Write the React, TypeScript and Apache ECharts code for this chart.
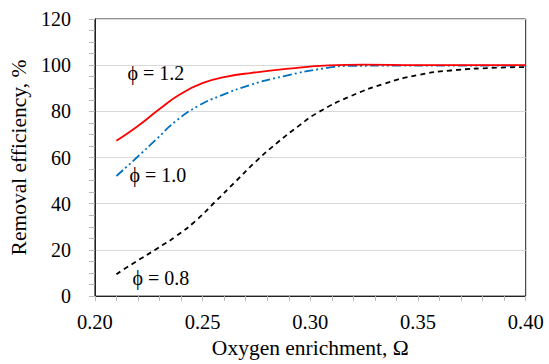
import React, { useEffect, useRef } from "react";
import * as echarts from "echarts";

const xRed = [0.21, 0.2192, 0.23, 0.2392, 0.2499, 0.2606, 0.2729, 0.29, 0.3085, 0.325, 0.35, 0.375, 0.40];
const yRed = [67.3, 73.1, 81, 87.2, 92.2, 94.9, 96.7, 98.5, 99.9, 100.2, 100, 100, 100];

const xBlue = [0.21, 0.2192, 0.2284, 0.2376, 0.248, 0.2576, 0.272, 0.2875, 0.3075, 0.319, 0.34, 0.37, 0.40];
const yBlue = [52, 59.8, 67.8, 75.8, 82.4, 86.5, 91.4, 95.2, 98.8, 99.7, 99.8, 99.8, 99.8];

const xBlack = [0.21, 0.2192, 0.2284, 0.2376, 0.2468, 0.256, 0.2653, 0.2745, 0.2845, 0.2945, 0.3037, 0.319, 0.3344, 0.3498, 0.3651, 0.3866, 0.40];
const yBlack = [9.5, 15, 20.3, 25.9, 32.6, 41, 49.6, 58.1, 66.3, 73.6, 79.6, 86.7, 92, 95.7, 97.7, 98.9, 99.2];

const labels = ["ϕ = 1.2", "ϕ = 1.0", "ϕ = 0.8"];

const FONT = "Liberation Serif";

export default function App() {
  const ref = useRef<HTMLDivElement>(null);
  useEffect(() => {
    if (!ref.current) return;
    const chart = echarts.init(ref.current, null, { renderer: "svg" });
    const zip = (xs: number[], ys: number[]) => xs.map((x, i) => [x, ys[i]]);
    const txt = (t: string, x: number, y: number) => ({
      type: "text",
      x,
      y,
      style: { text: t, fontFamily: FONT, fontSize: 20, fill: "#000", verticalAlign: "middle", align: "left" },
    });
    chart.setOption({
      animation: false,
      textStyle: { fontFamily: FONT },
      grid: { left: 91.7, right: 23.3, top: 19, bottom: 65, show: true, borderColor: "#222", borderWidth: 1 },
      xAxis: {
        type: "value",
        min: 0.2,
        max: 0.4,
        interval: 0.05,
        name: "Oxygen enrichment, Ω",
        nameLocation: "middle",
        nameGap: 40,
        nameTextStyle: { fontFamily: FONT, fontSize: 21.5, color: "#000" },
        axisLine: { lineStyle: { color: "#222", width: 1 } },
        axisTick: { show: true, length: 5, lineStyle: { color: "#bbb" } },
        minorTick: { show: true, splitNumber: 5, length: 5, lineStyle: { color: "#bbb" } },
        axisLabel: { fontFamily: FONT, fontSize: 20.5, color: "#000", margin: 15, formatter: (v: number) => v.toFixed(2) },
        splitLine: { show: false },
      },
      yAxis: {
        type: "value",
        min: 0,
        max: 120,
        interval: 20,
        name: "Removal efficiency, %",
        nameLocation: "middle",
        nameGap: 58,
        nameTextStyle: { fontFamily: FONT, fontSize: 21.5, color: "#000" },
        axisLine: { show: true, lineStyle: { color: "#222", width: 1 } },
        axisTick: { show: true, length: 6, lineStyle: { color: "#bbb" } },
        minorTick: { show: true, splitNumber: 4, length: 6, lineStyle: { color: "#bbb" } },
        axisLabel: { fontFamily: FONT, fontSize: 20, color: "#000", margin: 24 },
        splitLine: { show: true, lineStyle: { color: "#d9d9d9", width: 1 } },
      },
      series: [
        {
          type: "line",
          data: zip(xBlack, yBlack),
          smooth: 0.5,
          showSymbol: false,
          lineStyle: { color: "#000", width: 1.8, type: [5, 4] },
        },
        {
          type: "line",
          data: zip(xBlue, yBlue),
          smooth: 0.5,
          showSymbol: false,
          lineStyle: { color: "#0070C0", width: 1.8, type: [9, 3, 2, 3, 2, 3] },
        },
        {
          type: "line",
          data: zip(xRed, yRed),
          smooth: 0.5,
          showSymbol: false,
          lineStyle: { color: "#ff0000", width: 1.8 },
        },
      ],
      graphic: [
        txt(labels[0], 127.5, 73),
        txt(labels[1], 129.5, 175),
        txt(labels[2], 132.5, 277.5),
      ],
    });
    return () => chart.dispose();
  }, []);
  return <div ref={ref} style={{ position: "absolute", left: 0, top: 0, width: 549, height: 364 }} />;
}
